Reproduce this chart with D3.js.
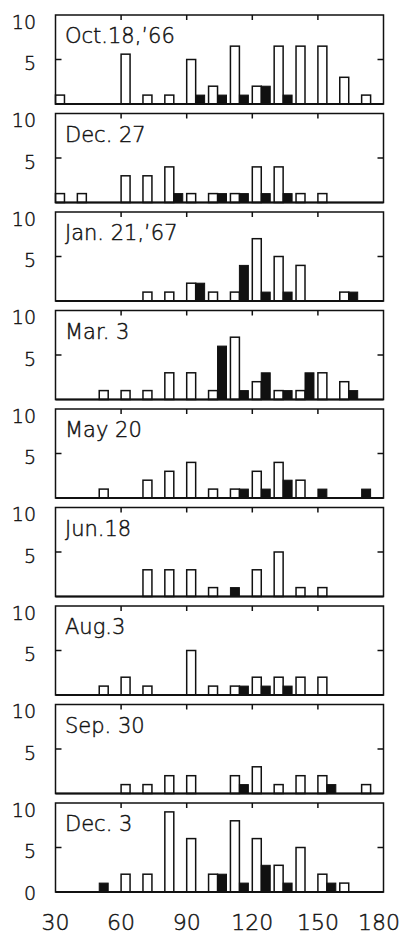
<!DOCTYPE html>
<html>
<head>
<meta charset="utf-8">
<script src="https://cdn.jsdelivr.net/npm/d3@7"></script>
<style>
  body { margin: 0; background: #fff; }
  text { font-family: "DejaVu Sans", sans-serif; font-weight: 200; fill: #111; stroke: #111; stroke-width: 0.45px; }
</style>
</head>
<body>
<script>
// Bin start values (x), one white and one black bar per bin
var bins = [30, 40, 50, 60, 70, 80, 90, 100, 110, 120, 130, 140, 150, 160, 170];

var dates = ["Oct.18,\u201966", "Dec. 27", "Jan. 21,\u201967", "Mar. 3", "May 20",
  "Jun.18", "Aug.3", "Sep. 30", "Dec. 3"];

// white (open) bars per panel
var oct18White = [1, 0, 0, 5.6, 1, 1, 5, 2, 6.5, 2, 6.5, 6.5, 6.5, 3, 1];
var dec27White = [1, 1, 0, 3, 3, 4, 1, 1, 1, 4, 4, 1, 1, 0, 0];
var jan21White = [0, 0, 0, 0, 1, 1, 2, 1, 1, 7, 5, 4, 0, 1, 0];
var mar3White  = [0, 0, 1, 1, 1, 3, 3, 1, 7, 2, 1, 1, 3, 2, 0];
var may20White = [0, 0, 1, 0, 2, 3, 4, 1, 1, 3, 4, 2, 0, 0, 0];
var jun18White = [0, 0, 0, 0, 3, 3, 3, 1, 0, 3, 5, 1, 1, 0, 0];
var aug3White  = [0, 0, 1, 2, 1, 0, 5, 1, 1, 2, 2, 2, 2, 0, 0];
var sep30White = [0, 0, 0, 1, 1, 2, 2, 0, 2, 3, 1, 2, 2, 0, 1];
var dec3White  = [0, 0, 0, 2, 2, 9, 6, 2, 8, 6, 3, 5, 2, 1, 0];

// black (filled) bars per panel
var oct18Black = [0, 0, 0, 0, 0, 0, 1, 1, 1, 2, 1, 0, 0, 0, 0];
var dec27Black = [0, 0, 0, 0, 0, 1, 0, 1, 1, 1, 1, 0, 0, 0, 0];
var jan21Black = [0, 0, 0, 0, 0, 0, 2, 0, 4, 1, 1, 0, 0, 1, 0];
var mar3Black  = [0, 0, 0, 0, 0, 0, 0, 6, 1, 3, 1, 3, 0, 1, 0];
var may20Black = [0, 0, 0, 0, 0, 0, 0, 0, 1, 1, 2, 0, 1, 0, 1];
var jun18Black = [0, 0, 0, 0, 0, 0, 0, 0, 1, 0, 0, 0, 0, 0, 0];
var aug3Black  = [0, 0, 0, 0, 0, 0, 0, 0, 1, 1, 1, 0, 0, 0, 0];
var sep30Black = [0, 0, 0, 0, 0, 0, 0, 0, 1, 0, 0, 0, 1, 0, 0];
var dec3Black  = [0, 0, 1, 0, 0, 0, 0, 2, 1, 3, 1, 0, 1, 0, 0];

var whiteSeries = [oct18White, dec27White, jan21White, mar3White, may20White,
  jun18White, aug3White, sep30White, dec3White];
var blackSeries = [oct18Black, dec27Black, jan21Black, mar3Black, may20Black,
  jun18Black, aug3Black, sep30Black, dec3Black];

var xTickValues = [30, 60, 90, 120, 150, 180];
var yTickValues = [5, 10];

// Layout
var svgWidth = 402;
var svgHeight = 935;
var margin = { top: 15, left: 55.5, right: 18.5 };
var panelHeight = 89;
var panelStep = 98.5;
var barUnits = 4.1;

var svg = d3.select("body")
  .append("svg")
  .attr("width", svgWidth)
  .attr("height", svgHeight);

var xScale = d3.scaleLinear()
  .domain([30, 180])
  .range([margin.left, svgWidth - margin.right]);

var yScale = d3.scaleLinear()
  .domain([0, 10])
  .range([panelHeight, 0]);

var barW = xScale(30 + barUnits) - xScale(30);

dates.forEach(function(label, i) {
  var g = svg.append("g")
    .attr("transform", `translate(0, ${margin.top + i * panelStep})`);

  var white = whiteSeries[i];
  var black = blackSeries[i];

  // open bars
  g.selectAll("rect.white")
    .data(bins.filter((b, j) => white[j] > 0).map(b => ({ bin: b, v: white[bins.indexOf(b)] })))
    .enter()
    .append("rect")
    .attr("class", "white")
    .attr("x", d => xScale(d.bin))
    .attr("y", d => yScale(d.v))
    .attr("width", barW)
    .attr("height", d => yScale(0) - yScale(d.v))
    .attr("fill", "#fff")
    .attr("stroke", "#111")
    .attr("stroke-width", 1.5);

  // filled bars sit right of the open bar, or in its place when there is none
  g.selectAll("rect.black")
    .data(bins.filter((b, j) => black[j] > 0).map(b => {
      var j = bins.indexOf(b);
      return { bin: b, v: black[j], shift: white[j] > 0 ? barUnits : 0 };
    }))
    .enter()
    .append("rect")
    .attr("class", "black")
    .attr("x", d => xScale(d.bin + d.shift))
    .attr("y", d => yScale(d.v))
    .attr("width", barW)
    .attr("height", d => yScale(0) - yScale(d.v))
    .attr("fill", "#111")
    .attr("stroke", "#111")
    .attr("stroke-width", 1);

  // frame
  g.append("rect")
    .attr("x", xScale(30))
    .attr("y", 0)
    .attr("width", xScale(180) - xScale(30))
    .attr("height", panelHeight)
    .attr("fill", "none")
    .attr("stroke", "#111")
    .attr("stroke-width", 1.5);

  g.append("line")
    .attr("x1", xScale(30)).attr("x2", xScale(180))
    .attr("y1", yScale(0)).attr("y2", yScale(0))
    .attr("stroke", "#111")
    .attr("stroke-width", 2);

  // inner ticks on top edge
  g.selectAll("line.xtick")
    .data(xTickValues.slice(1, -1))
    .enter()
    .append("line")
    .attr("x1", d => xScale(d)).attr("x2", d => xScale(d))
    .attr("y1", 0).attr("y2", 5)
    .attr("stroke", "#111")
    .attr("stroke-width", 1.5);

  // inner ticks at 5 on both sides
  [xScale(30), xScale(180)].forEach(function(xe, k) {
    g.append("line")
      .attr("x1", xe).attr("x2", k === 0 ? xe + 6 : xe - 6)
      .attr("y1", yScale(5)).attr("y2", yScale(5))
      .attr("stroke", "#111")
      .attr("stroke-width", 1.5);
  });

  // y labels
  var labels = i === dates.length - 1 ? [0].concat(yTickValues) : yTickValues;
  g.selectAll("text.ylab")
    .data(labels)
    .enter()
    .append("text")
    .attr("x", 36)
    .attr("y", d => yScale(d) + 1 + 0.6 * d)
    .attr("dy", "0.36em")
    .attr("text-anchor", "end")
    .style("font-size", "19px")
    .text(d => d);

  // panel title
  g.append("text")
    .attr("x", 65)
    .attr("y", 28)
    .style("font-size", "21px")
    .text(label);
});

// x axis labels under the last panel, kept inside the page
var bottomY = margin.top + (dates.length - 1) * panelStep + panelHeight;
svg.selectAll("text.xlab")
  .data(xTickValues)
  .enter()
  .append("text")
  .attr("y", bottomY + 38)
  .attr("text-anchor", "middle")
  .style("font-size", "22px")
  .text(d => d)
  .attr("x", function(d) {
    var half = this.getComputedTextLength() / 2;
    return Math.min(xScale(d), svgWidth - 2 - half);
  });
</script>
</body>
</html>
